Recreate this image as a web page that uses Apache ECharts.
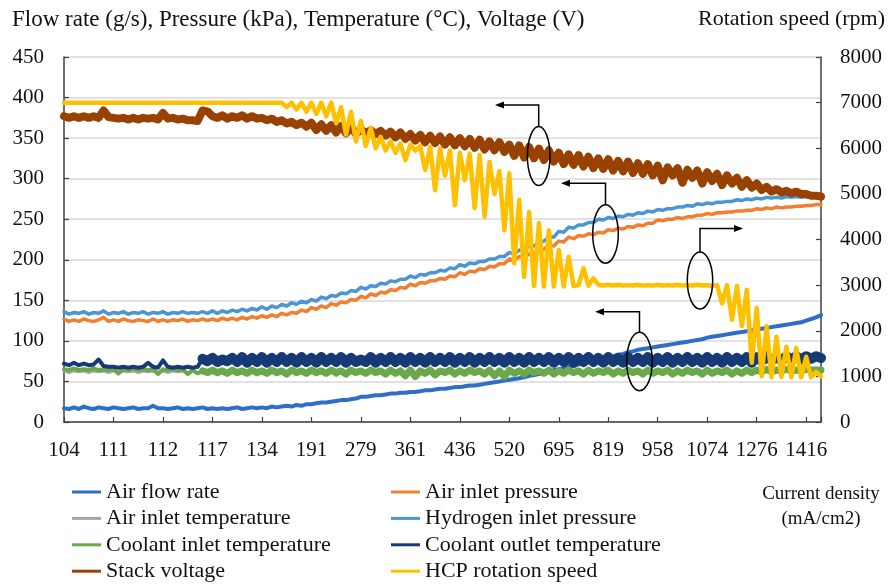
<!DOCTYPE html>
<html>
<head>
<meta charset="utf-8">
<script src="https://cdn.jsdelivr.net/npm/echarts@6/dist/echarts.min.js"></script>
<style>
  html, body { margin: 0; padding: 0; background: #fff; }
  #chart { width: 890px; height: 586px; }
</style>
</head>
<body>
<div id="chart"></div>
<script>
// Current density (mA/cm2) shown every 10th sample along the x axis
const currentDensityLabels = [104, 111, 112, 117, 134, 191, 279, 361, 436, 520, 695, 819, 958, 1074, 1276, 1416];

// Left axis: flow rate (g/s), pressure (kPa), temperature (°C), voltage (V)
const airFlowRate = [
  17, 16, 18, 16, 19, 17, 16, 18, 17, 16,
  18, 17, 16, 17, 18, 16, 17, 17, 20, 17,
  17, 16, 17, 18, 16, 17, 16, 17, 18, 16,
  17, 16, 17, 16, 17, 18, 16, 17, 18, 17,
  18, 17, 19, 18, 19, 20, 19, 21, 20, 22,
  22, 23, 24, 24, 25, 26, 27, 27, 28, 29,
  31, 31, 32, 33, 33, 34, 35, 35, 36, 36,
  37, 37, 38, 39, 39, 40, 41, 41, 42, 43,
  43, 44, 45, 45, 46, 47, 48, 49, 50, 51,
  52, 53, 54, 55, 57, 58, 59, 61, 62, 64,
  65, 66, 68, 69, 71, 72, 74, 75, 77, 78,
  80, 81, 83, 84, 86, 87, 89, 90, 91, 92,
  93, 94, 95, 96, 97, 98, 99, 100, 101, 102,
  104, 105, 106, 107, 108, 109, 110, 111, 112, 113,
  114, 115, 116, 117, 118, 119, 120, 121, 122, 123,
  125, 127, 129, 132
];

const airInletPressure = [
  127, 124, 126, 124, 127, 125, 124, 126, 129, 124,
  126, 124, 127, 125, 124, 126, 125, 124, 127, 124,
  126, 124, 126, 125, 127, 124, 126, 125, 127, 125,
  127, 125, 128, 126, 128, 126, 129, 127, 130, 128,
  131, 129, 132, 130, 134, 132, 135, 134, 138, 136,
  141, 139, 143, 141, 146, 144, 148, 147, 151, 150,
  155, 153, 158, 156, 160, 159, 163, 162, 166, 165,
  170, 168, 172, 171, 174, 174, 177, 176, 180, 179,
  184, 182, 186, 185, 189, 188, 192, 191, 195, 195,
  201, 199, 204, 203, 207, 208, 212, 213, 218, 217,
  223, 222, 228, 226, 230, 229, 232, 231, 234, 233,
  237, 236, 239, 238, 241, 240, 243, 242, 245, 245,
  249, 248, 250, 250, 252, 251, 253, 253, 255, 255,
  257, 256, 258, 258, 259, 259, 260, 260, 261, 261,
  263, 262, 264, 263, 265, 264, 265, 265, 266, 266,
  267, 267, 268, 268
];

const airInletTemperature = [
  63, 61, 63, 62, 63, 61, 63, 62, 63, 61,
  63, 61, 63, 62, 63, 61, 63, 62, 63, 61,
  63, 61, 63, 62, 63, 60, 63, 60, 63, 59,
  63, 58, 62, 59, 63, 58, 62, 59, 63, 58,
  62, 59, 63, 58, 62, 58, 63, 59, 62, 58,
  63, 58, 62, 59, 63, 57, 62, 58, 63, 59,
  62, 58, 63, 59, 62, 57, 63, 58, 62, 56,
  63, 55, 62, 58, 63, 57, 62, 59, 63, 57,
  62, 58, 63, 59, 62, 57, 63, 56, 62, 55,
  63, 58, 62, 57, 63, 59, 62, 58, 63, 57,
  62, 58, 63, 59, 62, 57, 63, 58, 62, 59,
  63, 57, 62, 58, 63, 59, 62, 57, 63, 58,
  62, 59, 63, 57, 62, 58, 63, 59, 62, 57,
  63, 58, 62, 59, 63, 57, 62, 58, 63, 59,
  62, 60, 63, 60, 62, 61, 63, 61, 62, 62,
  63, 62, 63, 63
];

const hydrogenInletPressure = [
  136, 133, 135, 134, 136, 133, 135, 134, 137, 133,
  135, 134, 136, 133, 135, 134, 136, 133, 135, 134,
  136, 133, 135, 134, 136, 134, 135, 134, 136, 134,
  137, 134, 137, 135, 138, 136, 139, 137, 140, 138,
  142, 139, 143, 141, 145, 143, 147, 145, 149, 147,
  151, 149, 154, 152, 156, 155, 159, 158, 162, 161,
  166, 164, 168, 167, 171, 170, 174, 173, 176, 176,
  180, 178, 182, 181, 184, 184, 187, 186, 190, 189,
  194, 192, 196, 195, 198, 198, 201, 201, 204, 204,
  209, 207, 212, 212, 217, 217, 222, 223, 228, 228,
  235, 234, 240, 239, 243, 243, 246, 246, 250, 249,
  252, 251, 254, 253, 256, 255, 258, 257, 260, 259,
  262, 261, 263, 263, 265, 265, 267, 266, 269, 268,
  270, 269, 271, 271, 272, 272, 274, 273, 275, 274,
  276, 275, 277, 276, 277, 276, 278, 277, 278, 277,
  278, 277, 278, 277
];

const coolantInletTemperature = [
  65, 64, 66, 64, 65, 64, 66, 64, 65, 64,
  65, 60, 65, 64, 66, 64, 65, 64, 65, 59,
  65, 64, 66, 64, 65, 59, 64, 60, 63, 61,
  64, 61, 63, 60, 64, 61, 63, 60, 64, 61,
  63, 60, 64, 61, 63, 59, 64, 61, 63, 60,
  64, 61, 63, 60, 64, 61, 63, 59, 64, 61,
  63, 60, 64, 61, 63, 59, 64, 60, 63, 57,
  64, 56, 63, 60, 64, 58, 63, 61, 64, 59,
  63, 60, 64, 61, 63, 59, 64, 57, 63, 56,
  64, 60, 63, 59, 64, 61, 63, 60, 64, 59,
  63, 60, 64, 61, 63, 59, 64, 60, 63, 61,
  64, 59, 63, 60, 64, 61, 63, 59, 64, 60,
  63, 61, 64, 59, 63, 60, 64, 61, 63, 59,
  64, 60, 63, 61, 64, 59, 63, 60, 64, 61,
  64, 62, 65, 62, 64, 63, 65, 63, 64, 63,
  65, 64, 64, 64
];

const coolantOutletTemperature = [
  72, 70, 73, 70, 72, 70, 71, 77, 69, 68,
  68, 67, 68, 67, 68, 67, 68, 73, 68, 67,
  76, 68, 67, 68, 67, 68, 67, 68, 78, 75,
  79, 74, 77, 75, 79, 74, 80, 73, 79, 74,
  80, 73, 79, 74, 80, 74, 79, 73, 80, 74,
  79, 73, 80, 74, 79, 74, 80, 73, 79, 74,
  77, 74, 80, 73, 79, 74, 80, 74, 79, 73,
  80, 74, 79, 73, 80, 74, 79, 74, 80, 73,
  79, 74, 80, 73, 79, 74, 80, 74, 79, 73,
  80, 74, 79, 73, 80, 74, 79, 74, 80, 73,
  79, 74, 80, 73, 79, 74, 80, 74, 79, 73,
  80, 74, 79, 73, 80, 74, 79, 74, 80, 73,
  79, 74, 80, 73, 79, 74, 80, 74, 79, 73,
  80, 74, 79, 73, 80, 74, 79, 74, 80, 73,
  80, 75, 81, 76, 80, 76, 81, 77, 81, 77,
  81, 78, 81, 79
];

const stackVoltage = [
  377, 375, 377, 375, 377, 375, 377, 375, 384, 376,
  375, 374, 375, 373, 375, 373, 375, 374, 375, 373,
  381, 374, 375, 373, 374, 372, 372, 371, 384, 383,
  377, 375, 378, 374, 377, 375, 378, 374, 377, 374,
  375, 372, 374, 370, 372, 368, 370, 366, 369, 364,
  369, 360, 367, 359, 366, 357, 365, 356, 364, 355,
  361, 356, 360, 355, 359, 353, 358, 351, 357, 349,
  355, 347, 354, 345, 353, 344, 352, 342, 351, 341,
  350, 340, 349, 338, 348, 336, 346, 335, 345, 333,
  342, 328, 341, 326, 339, 325, 337, 323, 335, 321,
  332, 318, 330, 317, 329, 315, 327, 313, 325, 312,
  324, 310, 322, 309, 321, 307, 319, 306, 318, 304,
  316, 298, 314, 304, 313, 295, 311, 301, 310, 294,
  308, 297, 306, 292, 304, 294, 301, 290, 298, 289,
  294, 286, 290, 284, 287, 283, 285, 282, 284, 281,
  281, 279, 279, 278
];

// Right axis: HCP rotation speed (rpm)
const hcpRotationSpeed = [
  7000, 7000, 7000, 7000, 7000, 7000, 7000, 7000, 7000, 7000,
  7000, 7000, 7000, 7000, 7000, 7000, 7000, 7000, 7000, 7000,
  7000, 7000, 7000, 7000, 7000, 7000, 7000, 7000, 7000, 7000,
  7000, 7000, 7000, 7000, 7000, 7000, 7000, 7000, 7000, 7000,
  7000, 7000, 7000, 7000, 7000, 6900, 7000, 6850, 7000, 6800,
  7000, 6750, 7000, 6700, 7000, 6550, 6900, 6300, 6800, 6150,
  6600, 6050, 6450, 6000, 6250, 5950, 6150, 5900, 6100, 5740,
  6080, 5950, 6050, 5520, 6030, 5080, 6000, 5400, 5950, 4750,
  5900, 5300, 5880, 4690, 5850, 4500, 5700, 5000, 5500, 4200,
  5450, 3480, 4870, 3180, 4600, 2980, 4360, 2970, 4200, 2970,
  3770, 2970, 3620, 2980, 3000, 3370, 2990, 3150, 3010, 2990,
  3010, 2990, 3010, 2990, 3000, 2990, 3010, 2990, 3000, 2990,
  3010, 2990, 3000, 2990, 3010, 2990, 3000, 2990, 3010, 2990,
  3000, 2980, 3000, 2600, 3000, 2240, 2980, 2100, 2900, 1300,
  2500, 1000, 2100, 980, 1870, 990, 1650, 980, 1620, 980,
  1430, 980, 1100, 1000
];

// Sample index where the coolant temperatures switch from a steady trace to a fluctuating band
const BAND_START = 28;

const FONT = 'Liberation Serif';
const TEXT = '#111';
const AXIS = '#404040';

const toPairs = arr => arr.map((v, i) => [i, v]);

function lineSeries(name, pairs, color, yAxisIndex, width) {
  return {
    name: name,
    type: 'line',
    data: pairs,
    yAxisIndex: yAxisIndex,
    symbol: 'none',
    showSymbol: false,
    silent: true,
    animation: false,
    lineStyle: { color: color, width: width, join: 'round', cap: 'round' },
    itemStyle: { color: color }
  };
}

const inletPairs = toPairs(coolantInletTemperature);
const outletPairs = toPairs(coolantOutletTemperature);

const seriesList = [
  lineSeries('Air flow rate', toPairs(airFlowRate), '#2f6ec8', 0, 4),
  lineSeries('Air inlet pressure', toPairs(airInletPressure), '#f07f30', 0, 3.5),
  lineSeries('Air inlet temperature', toPairs(airInletTemperature), '#a5a5a5', 0, 3),
  lineSeries('Hydrogen inlet pressure', toPairs(hydrogenInletPressure), '#4a95d4', 0, 3.5),
  // steady part drawn thin, fluctuating part drawn as a wide band
  lineSeries('Coolant inlet temperature', inletPairs.slice(0, BAND_START + 1), '#6aa84a', 0, 4),
  lineSeries('Coolant inlet temperature', inletPairs.slice(BAND_START), '#6aa84a', 0, 7),
  lineSeries('Coolant outlet temperature', outletPairs.slice(0, BAND_START + 1), '#163a75', 0, 4),
  lineSeries('Coolant outlet temperature', outletPairs.slice(BAND_START), '#163a75', 0, 10),
  lineSeries('Stack voltage', toPairs(stackVoltage), '#984100', 0, 8),
  lineSeries('HCP rotation speed', toPairs(hcpRotationSpeed), '#ffc000', 1, 4.5)
];

const legendText = { fontFamily: FONT, fontSize: 22, color: TEXT, lineHeight: 22 };
const legendBase = {
  orient: 'vertical', top: 481, padding: 0, icon: 'rect',
  itemWidth: 29, itemHeight: 3, itemGap: 4.4, selectedMode: false,
  textStyle: legendText
};

// Callout: ellipse around a group of curves with an elbow arrow pointing at its axis
function callout(cx, cy, rx, ry, elbowY, tipX) {
  const dir = tipX < cx ? 1 : -1;
  return [
    { type: 'ellipse', shape: { cx: cx, cy: cy, rx: rx, ry: ry },
      style: { fill: 'none', stroke: '#000', lineWidth: 1.5 }, z: 100 },
    { type: 'polyline', shape: { points: [[cx, cy - ry], [cx, elbowY], [tipX + dir * 7, elbowY]] },
      style: { fill: 'none', stroke: '#000', lineWidth: 1.5 }, z: 100 },
    { type: 'polygon', shape: { points: [[tipX, elbowY], [tipX + dir * 9, elbowY - 3.5], [tipX + dir * 9, elbowY + 3.5]] },
      style: { fill: '#000' }, z: 100 }
  ];
}

const option = {
  backgroundColor: '#fff',
  animation: false,
  grid: { left: 64, top: 57, width: 757, height: 365, containLabel: false },
  xAxis: {
    type: 'value', min: 0, max: 153, interval: 10,
    axisLine: { show: true, lineStyle: { color: AXIS, width: 1.5 } },
    axisTick: { show: true, inside: true, length: 5, lineStyle: { color: AXIS, width: 1.2 } },
    splitLine: { show: false },
    axisLabel: {
      fontFamily: FONT, fontSize: 21, color: TEXT, margin: 18,
      formatter: v => (v % 10 === 0 && currentDensityLabels[v / 10] !== undefined) ? String(currentDensityLabels[v / 10]) : ''
    }
  },
  yAxis: [
    {
      type: 'value', min: 0, max: 450, interval: 50, position: 'left',
      axisLine: { show: true, lineStyle: { color: AXIS, width: 1.5 } },
      axisTick: { show: true, inside: true, length: 5, lineStyle: { color: AXIS, width: 1.2 } },
      splitLine: { show: true, lineStyle: { color: '#d9d9d9', width: 1.5 } },
      axisLabel: { fontFamily: FONT, fontSize: 21, color: TEXT, margin: 20, formatter: v => String(v) }
    },
    {
      type: 'value', min: 0, max: 8000, interval: 1000, position: 'right',
      axisLine: { show: true, lineStyle: { color: AXIS, width: 1.5 } },
      axisTick: { show: true, inside: true, length: 5, lineStyle: { color: AXIS, width: 1.2 } },
      splitLine: { show: false },
      axisLabel: { fontFamily: FONT, fontSize: 21, color: TEXT, margin: 19, formatter: v => String(v) }
    }
  ],
  legend: [
    Object.assign({}, legendBase, { left: 72, data: ['Air flow rate', 'Air inlet temperature', 'Coolant inlet temperature', 'Stack voltage'] }),
    Object.assign({}, legendBase, { left: 391, data: ['Air inlet pressure', 'Hydrogen inlet pressure', 'Coolant outlet temperature', 'HCP rotation speed'] })
  ],
  graphic: [].concat(
    [
      { type: 'text', left: 12, top: 8, silent: true,
        style: { text: 'Flow rate (g/s), Pressure (kPa), Temperature (°C), Voltage (V)', font: '23px "Liberation Serif"', fill: TEXT } },
      { type: 'text', right: 5, top: 8, silent: true,
        style: { text: 'Rotation speed (rpm)', font: '22px "Liberation Serif"', fill: TEXT } },
      { type: 'text', x: 821, y: 482, silent: true,
        style: { text: 'Current density\n(mA/cm2)', font: '19px "Liberation Serif"', fill: TEXT, align: 'center', lineHeight: 25 } }
    ],
    callout(538.7, 156, 11.3, 29.5, 105, 495),
    callout(605.5, 234, 12.8, 29.2, 183.3, 561),
    callout(700, 280.5, 12.7, 28.5, 228.5, 743),
    callout(639.5, 361.5, 12.8, 29.2, 311.7, 595)
  ),
  series: seriesList
};

const chart = echarts.init(document.getElementById('chart'), null, { renderer: 'canvas' });
chart.setOption(option);
</script>
</body>
</html>
